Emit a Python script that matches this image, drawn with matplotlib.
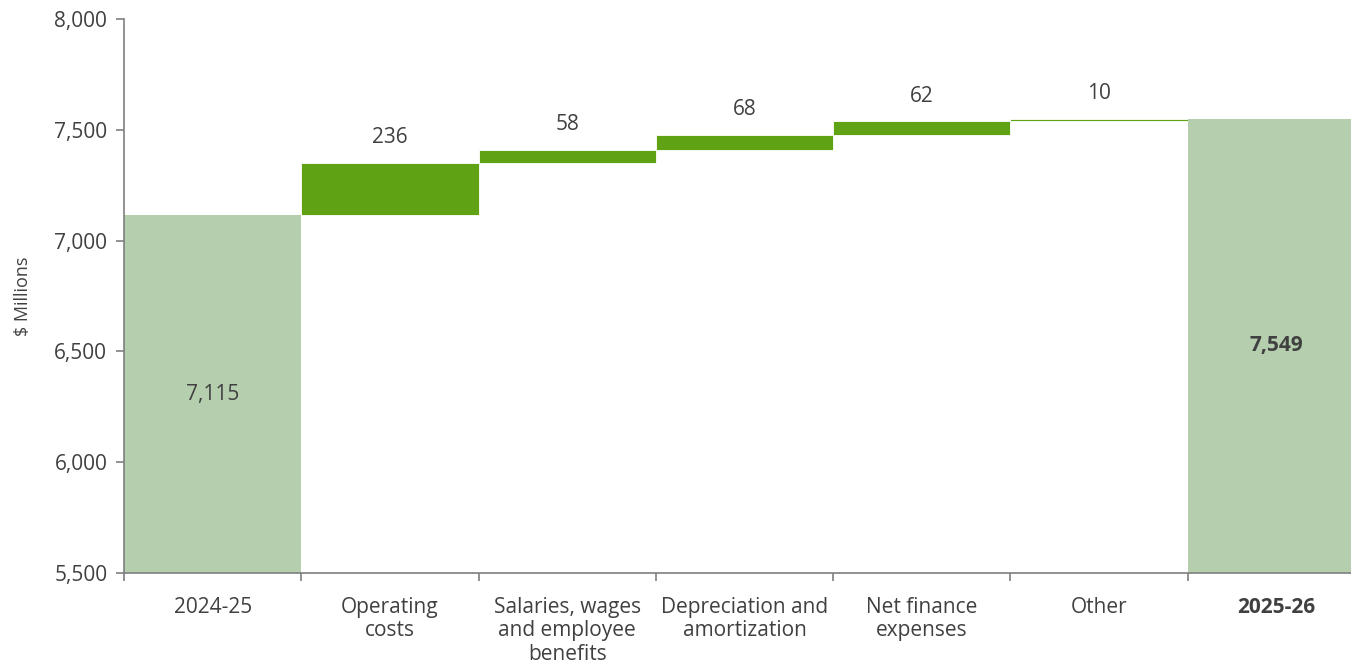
import matplotlib
matplotlib.use("Agg")
import matplotlib.pyplot as plt
import numpy as np

categories = ["2024-25", "Operating\ncosts", "Salaries, wages\nand employee\nbenefits",
              "Depreciation and\namortization", "Net finance\nexpenses", "Other", "2025-26"]
start_value = 7115
changes = [236, 58, 68, 62, 10]
end_value = 7549
yticks = [5500, 6000, 6500, 7000, 7500, 8000]

total_color = "#B5CFAE"
change_color = "#5FA314"
text_color = "#404040"
spine_color = "#7F7F7F"

plt.rcParams['font.family'] = ['Open Sans', 'DejaVu Sans']

fig = plt.figure(figsize=(13.51, 6.65), dpi=100)
ax = fig.add_axes([124/1351, (665-573)/665, 1241/1351, (573-19)/665])

ymin = 5500
n = len(categories)
x = np.arange(n)
fs = 15

ax.bar(x[0], start_value - ymin, bottom=ymin, width=1.0, color=total_color, edgecolor='none')
ax.text(x[0], (start_value + ymin) / 2, f"{start_value:,}", ha='center', va='center',
        fontsize=fs, color=text_color)

cum = start_value
for i, c in enumerate(changes, start=1):
    ax.bar(x[i], c, bottom=cum, width=1.0, color=change_color, edgecolor='white', linewidth=0.6)
    ax.annotate(f"{c:,}", xy=(x[i], cum + c), xytext=(0, 18), textcoords='offset points',
                ha='center', va='center', fontsize=fs, color=text_color)
    cum += c

ax.bar(x[-1], end_value - ymin, bottom=ymin, width=1.0, color=total_color, edgecolor='none')
ax.text(x[-1], (end_value + ymin) / 2, f"{end_value:,}", ha='center', va='center',
        fontsize=fs, color=text_color, fontweight='bold')

ax.set_xlim(-0.5, n - 0.5)
ax.set_ylim(ymin, 8000)
ax.set_yticks(yticks)
ax.set_yticklabels([f"{v:,}" for v in yticks], fontsize=fs, color=text_color)

ax.set_xticks(x)
ax.set_xticklabels(categories, fontsize=fs, color=text_color, linespacing=1.18, va='top')
for lbl in ax.get_xticklabels():
    if lbl.get_text() == "2025-26":
        lbl.set_fontweight('bold')
ax.tick_params(axis='x', length=0, pad=17)
ax.set_xticks(np.arange(n + 1) - 0.5, minor=True)
ax.tick_params(axis='x', which='minor', length=6, color=spine_color, width=1.2)
ax.tick_params(axis='y', length=6, color=spine_color, width=1.2, pad=6)

for s in ['top', 'right']:
    ax.spines[s].set_visible(False)
for s in ['left', 'bottom']:
    ax.spines[s].set_color(spine_color)
    ax.spines[s].set_linewidth(1.2)

ax.set_ylabel("$ Millions", fontsize=13, color=text_color, labelpad=16)

fig.savefig("out.png", dpi=100)
